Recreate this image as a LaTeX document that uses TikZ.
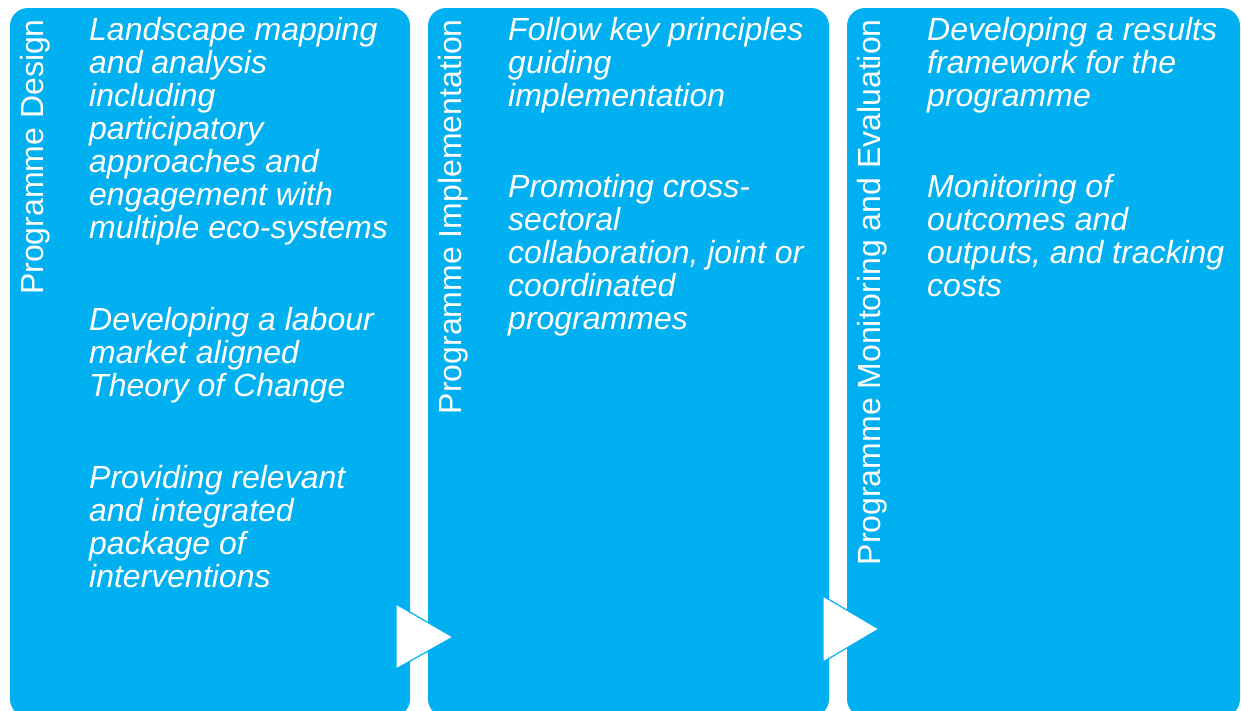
\documentclass[tikz,border=0pt]{standalone}
\usepackage{fontspec}
\setmainfont{Liberation Sans}
\definecolor{panelblue}{HTML}{00B0F0}
\tikzset{
  panel/.style={fill=panelblue, rounded corners=18pt, draw=none},
  vlabel/.style={text=white, inner sep=0pt, rotate=90, anchor=base east, font=\fontsize{32}{33}\selectfont},
  bodytext/.style={text=white, inner sep=0pt, anchor=base west, align=left, font=\fontsize{32}{33}\selectfont\itshape},
  arrowtri/.style={fill=white, draw=panelblue, line width=1.2pt, line join=miter}
}
\begin{document}
\begin{tikzpicture}[x=1pt, y=-1pt]
\useasboundingbox (0,0) rectangle (1241,710);
% panels
\fill[panel] (10,8) rectangle (410,717);
\fill[panel] (428,8) rectangle (829,717);
\fill[panel] (847,8) rectangle (1240,717);
% arrow triangles
\draw[arrowtri] (396,604) -- (453,637) -- (396,669) -- cycle;
\draw[arrowtri] (823,596) -- (879,629) -- (823,662) -- cycle;
% vertical labels
\node[vlabel] (l1) at (43,19) {Programme Design};
\node[vlabel] (l2) at (461,19) {Programme Implementation};
\node[vlabel] (l3) at (880,19) {Programme Monitoring and Evaluation};
% panel 1 text (anchor = baseline of the last line)
\node[bodytext] (a1) at (89,238) {Landscape mapping\\and analysis\\including\\participatory\\approaches and\\engagement with\\multiple eco-systems};
\node[bodytext] (a2) at (89,396) {Developing a labour\\market aligned\\Theory of Change};
\node[bodytext] (a3) at (89,587) {Providing relevant\\and integrated\\package of\\interventions};
% panel 2 text
\node[bodytext] (b1) at (508,106) {Follow key principles\\guiding\\implementation};
\node[bodytext] (b2) at (508,329) {Promoting cross-\\sectoral\\collaboration, joint or\\coordinated\\programmes};
% panel 3 text
\node[bodytext] (c1) at (927,106) {Developing a results\\framework for the\\programme};
\node[bodytext] (c2) at (927,296) {Monitoring of\\outcomes and\\outputs, and tracking\\costs};
\end{tikzpicture}
\end{document}
